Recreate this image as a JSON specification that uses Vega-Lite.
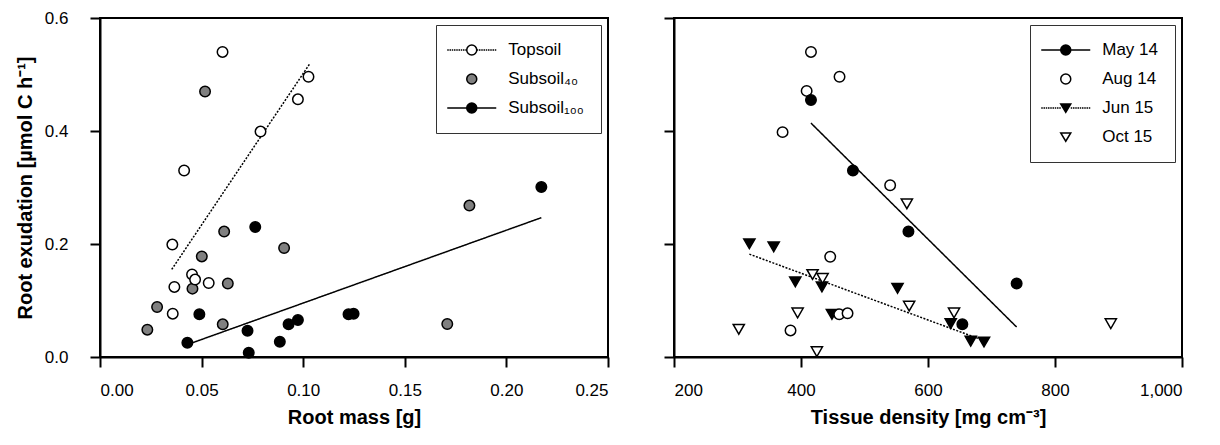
{
  "$schema": "https://vega.github.io/schema/vega-lite/v6.json",
  "background": "white",
  "padding": {"left": 14, "top": 8, "right": 5, "bottom": 5},
  "bounds": "flush",
  "spacing": 66,
  "datasets": {
    "exudA": [
      {"mass": 0.0764, "exudation": 0.230, "soil": "Subsoil₁₀₀"},
      {"mass": 0.0489, "exudation": 0.0755, "soil": "Subsoil₁₀₀"},
      {"mass": 0.0726, "exudation": 0.0466, "soil": "Subsoil₁₀₀"},
      {"mass": 0.0430, "exudation": 0.0254, "soil": "Subsoil₁₀₀"},
      {"mass": 0.0732, "exudation": 0.0077, "soil": "Subsoil₁₀₀"},
      {"mass": 0.0885, "exudation": 0.0271, "soil": "Subsoil₁₀₀"},
      {"mass": 0.0928, "exudation": 0.0578, "soil": "Subsoil₁₀₀"},
      {"mass": 0.0974, "exudation": 0.0655, "soil": "Subsoil₁₀₀"},
      {"mass": 0.1223, "exudation": 0.0755, "soil": "Subsoil₁₀₀"},
      {"mass": 0.1248, "exudation": 0.0767, "soil": "Subsoil₁₀₀"},
      {"mass": 0.2172, "exudation": 0.301, "soil": "Subsoil₁₀₀"},
      {"mass": 0.0517, "exudation": 0.470, "soil": "Subsoil₄₀"},
      {"mass": 0.0611, "exudation": 0.222, "soil": "Subsoil₄₀"},
      {"mass": 0.0906, "exudation": 0.193, "soil": "Subsoil₄₀"},
      {"mass": 0.0501, "exudation": 0.178, "soil": "Subsoil₄₀"},
      {"mass": 0.0629, "exudation": 0.130, "soil": "Subsoil₄₀"},
      {"mass": 0.0455, "exudation": 0.121, "soil": "Subsoil₄₀"},
      {"mass": 0.0281, "exudation": 0.0885, "soil": "Subsoil₄₀"},
      {"mass": 0.0233, "exudation": 0.0484, "soil": "Subsoil₄₀"},
      {"mass": 0.0604, "exudation": 0.0578, "soil": "Subsoil₄₀"},
      {"mass": 0.1709, "exudation": 0.0584, "soil": "Subsoil₄₀"},
      {"mass": 0.1818, "exudation": 0.268, "soil": "Subsoil₄₀"},
      {"mass": 0.0603, "exudation": 0.540, "soil": "Topsoil"},
      {"mass": 0.1026, "exudation": 0.496, "soil": "Topsoil"},
      {"mass": 0.0974, "exudation": 0.456, "soil": "Topsoil"},
      {"mass": 0.0790, "exudation": 0.399, "soil": "Topsoil"},
      {"mass": 0.0414, "exudation": 0.330, "soil": "Topsoil"},
      {"mass": 0.0356, "exudation": 0.199, "soil": "Topsoil"},
      {"mass": 0.0453, "exudation": 0.146, "soil": "Topsoil"},
      {"mass": 0.0468, "exudation": 0.137, "soil": "Topsoil"},
      {"mass": 0.0535, "exudation": 0.131, "soil": "Topsoil"},
      {"mass": 0.0366, "exudation": 0.124, "soil": "Topsoil"},
      {"mass": 0.0358, "exudation": 0.0767, "soil": "Topsoil"}
    ],
    "fitA": [
      {"mass": 0.0353, "exudation": 0.155, "soil": "Topsoil"},
      {"mass": 0.1034, "exudation": 0.520, "soil": "Topsoil"},
      {"mass": 0.0430, "exudation": 0.022, "soil": "Subsoil₁₀₀"},
      {"mass": 0.2172, "exudation": 0.2466, "soil": "Subsoil₁₀₀"}
    ],
    "exudB": [
      {"density": 318.7, "exudation": 0.2005, "campaign": "Jun 15"},
      {"density": 357.0, "exudation": 0.195, "campaign": "Jun 15"},
      {"density": 391.0, "exudation": 0.133, "campaign": "Jun 15"},
      {"density": 433.0, "exudation": 0.124, "campaign": "Jun 15"},
      {"density": 552.0, "exudation": 0.1216, "campaign": "Jun 15"},
      {"density": 448.7, "exudation": 0.0755, "campaign": "Jun 15"},
      {"density": 635.8, "exudation": 0.059, "campaign": "Jun 15"},
      {"density": 667.3, "exudation": 0.028, "campaign": "Jun 15"},
      {"density": 688.2, "exudation": 0.0265, "campaign": "Jun 15"},
      {"density": 566.7, "exudation": 0.271, "campaign": "Oct 15"},
      {"density": 418.2, "exudation": 0.146, "campaign": "Oct 15"},
      {"density": 434.0, "exudation": 0.139, "campaign": "Oct 15"},
      {"density": 570.3, "exudation": 0.090, "campaign": "Oct 15"},
      {"density": 394.7, "exudation": 0.078, "campaign": "Oct 15"},
      {"density": 302.0, "exudation": 0.049, "campaign": "Oct 15"},
      {"density": 425.0, "exudation": 0.0094, "campaign": "Oct 15"},
      {"density": 641.0, "exudation": 0.078, "campaign": "Oct 15"},
      {"density": 887.9, "exudation": 0.059, "campaign": "Oct 15"},
      {"density": 415.7, "exudation": 0.540, "campaign": "Aug 14"},
      {"density": 460.7, "exudation": 0.496, "campaign": "Aug 14"},
      {"density": 408.9, "exudation": 0.471, "campaign": "Aug 14"},
      {"density": 371.0, "exudation": 0.398, "campaign": "Aug 14"},
      {"density": 540.4, "exudation": 0.304, "campaign": "Aug 14"},
      {"density": 446.0, "exudation": 0.1775, "campaign": "Aug 14"},
      {"density": 460.2, "exudation": 0.0755, "campaign": "Aug 14"},
      {"density": 473.3, "exudation": 0.0773, "campaign": "Aug 14"},
      {"density": 383.5, "exudation": 0.047, "campaign": "Aug 14"},
      {"density": 415.7, "exudation": 0.455, "campaign": "May 14"},
      {"density": 481.8, "exudation": 0.330, "campaign": "May 14"},
      {"density": 569.2, "exudation": 0.222, "campaign": "May 14"},
      {"density": 739.6, "exudation": 0.130, "campaign": "May 14"},
      {"density": 654.1, "exudation": 0.058, "campaign": "May 14"}
    ],
    "fitB": [
      {"density": 415.7, "exudation": 0.414, "campaign": "May 14"},
      {"density": 739.6, "exudation": 0.053, "campaign": "May 14"},
      {"density": 318.7, "exudation": 0.182, "campaign": "Jun 15"},
      {"density": 688.2, "exudation": 0.029, "campaign": "Jun 15"}
    ]
  },
  "hconcat": [
    {
      "width": 508,
      "height": 339,
      "encoding": {
        "x": {
          "field": "mass", "type": "quantitative",
          "scale": {"domain": [0, 0.25], "nice": false, "zero": false},
          "axis": {"title": "Root mass [g]", "values": [0, 0.05, 0.1, 0.15, 0.2, 0.25], "format": ".2f"}
        },
        "y": {
          "field": "exudation", "type": "quantitative",
          "scale": {"domain": [0, 0.6], "nice": false},
          "axis": {"title": "Root exudation [µmol C h⁻¹]", "values": [0, 0.2, 0.4, 0.6], "format": ".1f"}
        }
      },
      "layer": [
        {
          "data": {"name": "fitA"},
          "mark": {"type": "line", "color": "black", "strokeWidth": 1.5},
          "encoding": {
            "strokeDash": {
              "field": "soil", "type": "nominal",
              "scale": {"domain": ["Topsoil", "Subsoil₁₀₀"], "range": [[2, 1.5], [1, 0]]},
              "legend": null
            }
          }
        },
        {
          "data": {"name": "exudA"},
          "mark": {"type": "point", "filled": true, "shape": "circle", "size": 110, "stroke": "black", "strokeWidth": 1.5, "opacity": 1},
          "encoding": {
            "fill": {
              "field": "soil", "type": "nominal",
              "scale": {"domain": ["Topsoil", "Subsoil₄₀", "Subsoil₁₀₀"], "range": ["white", "#808080", "black"]},
              "legend": {
                "title": null,
                "orient": "top-right",
                "encode": {
                  "symbols": {
                    "update": {
                      "shape": {"signal": "datum.value === 'Topsoil' ? 'M-4.9,0L-4.6,0M-4.45,0L-4.15,0M-4,0L-3.7,0M-3.55,0L-3.25,0M-3.1,0L-2.8,0M-2.65,0L-2.35,0M-2.2,0L-1.9,0M-1.75,0L-1.45,0M-1.3,0L-1,0M1,0L1.3,0M1.45,0L1.75,0M1.9,0L2.2,0M2.35,0L2.65,0M2.8,0L3.1,0M3.25,0L3.55,0M3.7,0L4,0M4.15,0L4.45,0M4.6,0L4.9,0M-1,0A1,1,0,1,1,1,0A1,1,0,1,1,-1,0Z' : datum.value === 'Subsoil₁₀₀' ? 'M-4.9,0L-1,0M1,0L4.9,0M-1,0A1,1,0,1,1,1,0A1,1,0,1,1,-1,0Z' : 'M-1,0A1,1,0,1,1,1,0A1,1,0,1,1,-1,0Z'"},
                      "stroke": {"value": "black"},
                      "strokeWidth": {"value": 1.5},
                      "opacity": {"value": 1}
                    }
                  }
                }
              }
            }
          }
        },
        {
          "data": {"values": [{}]},
          "mark": {"type": "text", "text": "(a)", "align": "left", "baseline": "middle", "font": "Liberation Sans", "fontSize": 22, "fontWeight": "bold", "color": "black"},
          "encoding": {"x": {"datum": 0.0099}, "y": {"datum": 0.55}}
        }
      ]
    },
    {
      "width": 508,
      "height": 339,
      "encoding": {
        "x": {
          "field": "density", "type": "quantitative",
          "scale": {"domain": [200, 1000], "nice": false, "zero": false},
          "axis": {"title": "Tissue density [mg cm⁻³]", "values": [200, 400, 600, 800, 1000], "format": ",.0f"}
        },
        "y": {
          "field": "exudation", "type": "quantitative",
          "scale": {"domain": [0, 0.6], "nice": false},
          "axis": {"title": null, "labels": false, "values": [0, 0.2, 0.4, 0.6]}
        }
      },
      "layer": [
        {
          "data": {"name": "fitB"},
          "mark": {"type": "line", "color": "black", "strokeWidth": 1.5},
          "encoding": {
            "strokeDash": {
              "field": "campaign", "type": "nominal",
              "scale": {"domain": ["May 14", "Jun 15"], "range": [[1, 0], [2, 1.5]]},
              "legend": null
            }
          }
        },
        {
          "data": {"name": "exudB"},
          "transform": [{"filter": {"field": "campaign", "oneOf": ["Jun 15", "Oct 15"]}}],
          "mark": {"type": "point", "filled": true, "shape": "triangle-down", "size": 125, "stroke": "black", "strokeWidth": 1.5, "opacity": 1},
          "encoding": {
            "fill": {
              "field": "campaign", "type": "nominal",
              "scale": {"domain": ["May 14", "Aug 14", "Jun 15", "Oct 15"], "range": ["black", "white", "black", "white"]},
              "legend": {
                "title": null,
                "orient": "top-right",
                "encode": {
                  "symbols": {
                    "update": {
                      "shape": {"signal": "datum.value === 'May 14' ? 'M-4.9,0L-1,0M1,0L4.9,0M-1,0A1,1,0,1,1,1,0A1,1,0,1,1,-1,0Z' : datum.value === 'Aug 14' ? 'M-1,0A1,1,0,1,1,1,0A1,1,0,1,1,-1,0Z' : datum.value === 'Jun 15' ? 'M-4.9,0L-4.6,0M-4.45,0L-4.15,0M-4,0L-3.7,0M-3.55,0L-3.25,0M-3.1,0L-2.8,0M-2.65,0L-2.35,0M-2.2,0L-1.9,0M-1.75,0L-1.45,0M-1.3,0L-1,0M1,0L1.3,0M1.45,0L1.75,0M1.9,0L2.2,0M2.35,0L2.65,0M2.8,0L3.1,0M3.25,0L3.55,0M3.7,0L4,0M4.15,0L4.45,0M4.6,0L4.9,0M-1,-0.8L1,-0.8L0,0.85Z' : 'M-1,-0.8L1,-0.8L0,0.85Z'"},
                      "stroke": {"value": "black"},
                      "strokeWidth": {"value": 1.5},
                      "opacity": {"value": 1}
                    }
                  }
                }
              }
            }
          }
        },
        {
          "data": {"name": "exudB"},
          "transform": [{"filter": {"field": "campaign", "oneOf": ["Aug 14", "May 14"]}}],
          "mark": {"type": "point", "filled": true, "shape": "circle", "size": 110, "stroke": "black", "strokeWidth": 1.5, "opacity": 1},
          "encoding": {
            "fill": {
              "field": "campaign", "type": "nominal",
              "scale": {"domain": ["May 14", "Aug 14", "Jun 15", "Oct 15"], "range": ["black", "white", "black", "white"]},
              "legend": null
            }
          }
        },
        {
          "data": {"values": [{}]},
          "mark": {"type": "text", "text": "(b)", "align": "left", "baseline": "middle", "font": "Liberation Sans", "fontSize": 22, "fontWeight": "bold", "color": "black"},
          "encoding": {"x": {"datum": 233.8}, "y": {"datum": 0.554}}
        }
      ]
    }
  ],
  "resolve": {
    "scale": {"strokeDash": "independent", "fill": "independent"},
    "legend": {"fill": "independent"}
  },
  "config": {
    "view": {"stroke": "black", "strokeWidth": 2},
    "font": "Liberation Sans",
    "axis": {
      "grid": false,
      "domainColor": "black",
      "domainWidth": 2,
      "tickColor": "black",
      "tickWidth": 2,
      "tickSize": 10,
      "labelFont": "Liberation Sans",
      "labelFontSize": 17,
      "labelColor": "black",
      "titleFont": "Liberation Sans",
      "titleFontSize": 20,
      "titleFontWeight": "bold",
      "titleColor": "black"
    },
    "axisX": {"labelPadding": 15, "titlePadding": 9},
    "axisY": {"labelPadding": 22, "titlePadding": 9},
    "legend": {
      "strokeColor": "#333333",
      "padding": 16.5,
      "rowPadding": 11,
      "offset": 7,
      "labelFont": "Liberation Sans",
      "labelFontSize": 17,
      "labelColor": "black",
      "labelLimit": 300,
      "symbolSize": 100,
      "symbolOffset": 10.75,
      "labelOffset": 28,
      "symbolOpacity": 1,
      "symbolStrokeColor": "black",
      "symbolStrokeWidth": 1.5
    }
  }
}
